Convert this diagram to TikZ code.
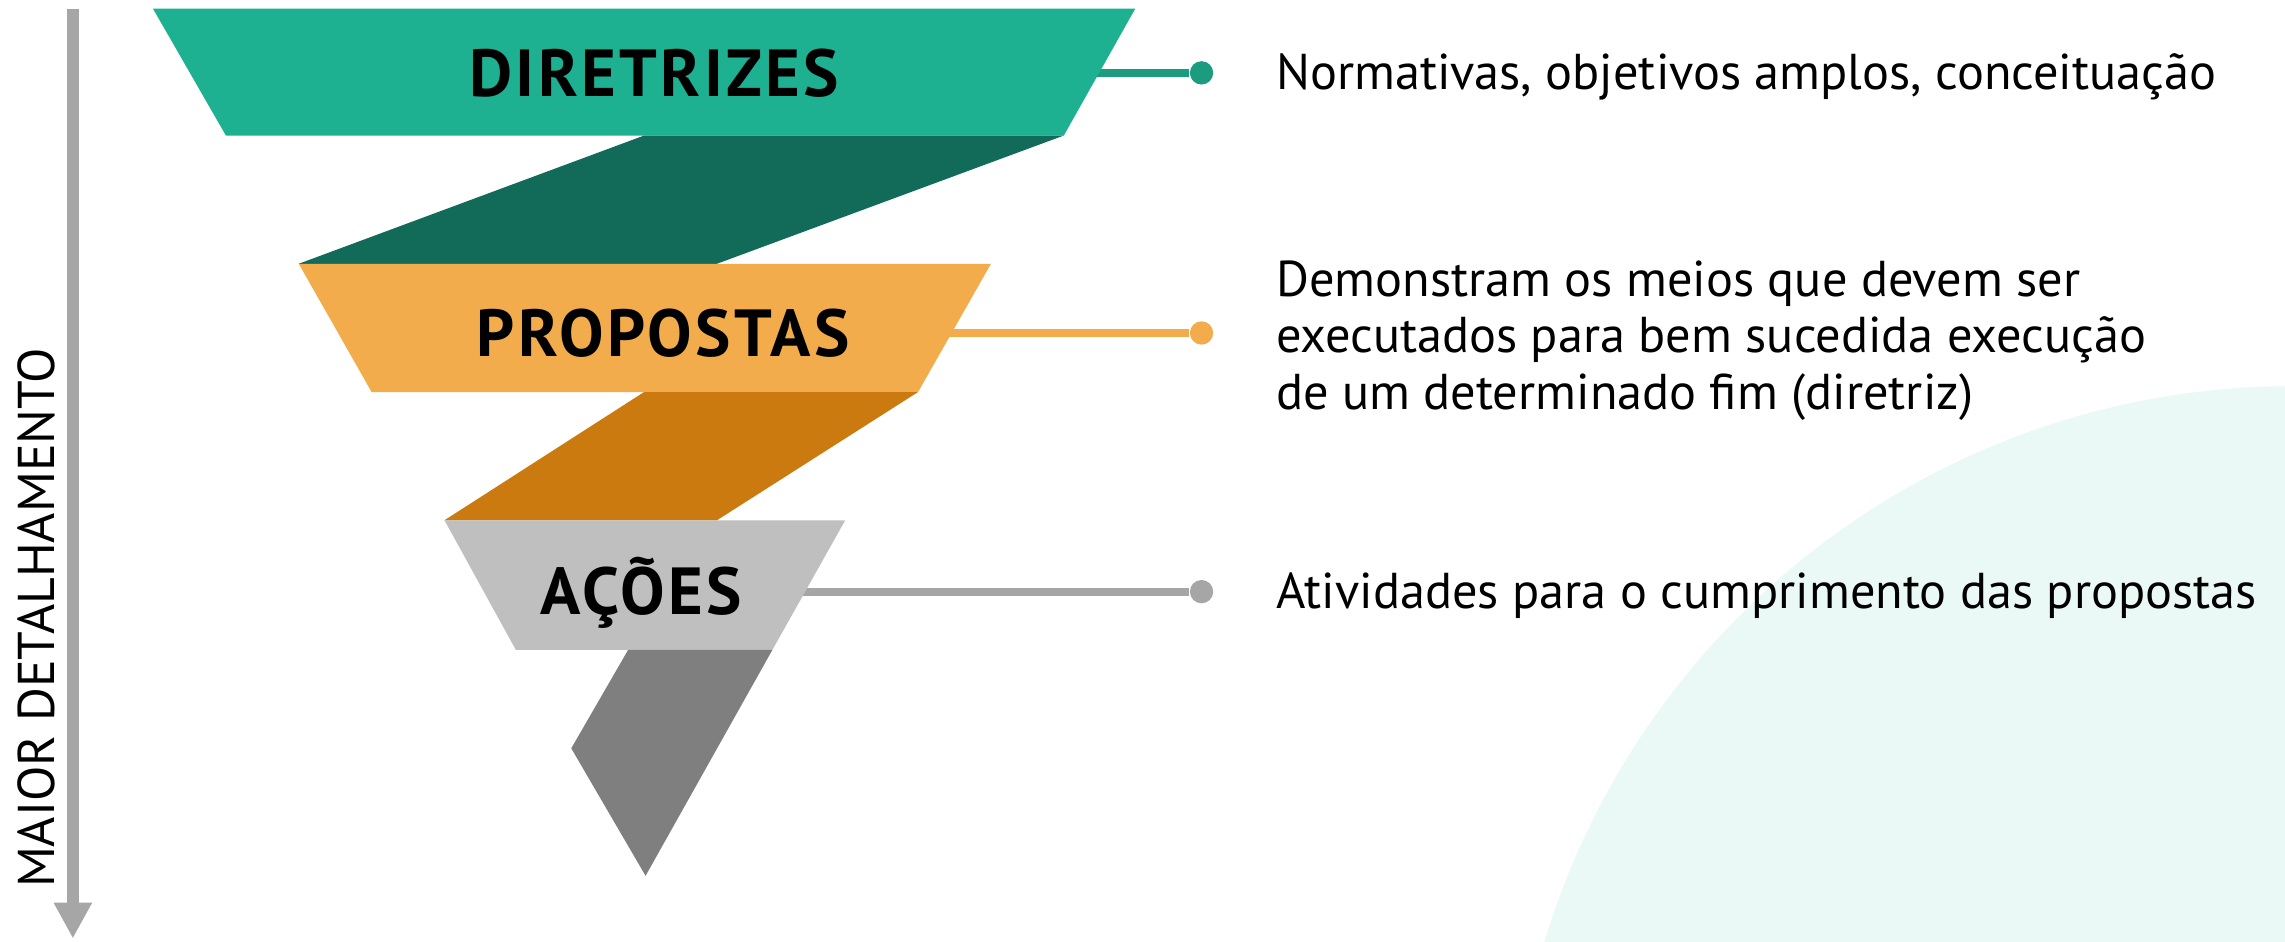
\documentclass[tikz,border=0pt]{standalone}
\usepackage{fontspec}
\setmainfont{PT Sans}
\usetikzlibrary{arrows.meta}

\pgfdeclarelayer{bg}
\pgfsetlayers{bg,main}

\definecolor{verde}{HTML}{1DB192}
\definecolor{verdeescuro}{HTML}{126B59}
\definecolor{verdelinha}{HTML}{1B9B7F}
\definecolor{laranja}{HTML}{F2AC4B}
\definecolor{laranjaescuro}{HTML}{CB7A10}
\definecolor{cinzaclaro}{HTML}{BFBFBF}
\definecolor{cinzaescuro}{HTML}{7F7F7F}
\definecolor{cinzalinha}{HTML}{A6A6A6}
\definecolor{fundo}{HTML}{EAF9F5}

\tikzset{
  rotulo/.style={font=\fontsize{13}{15}\selectfont\bfseries\addfontfeature{LetterSpace=5},
    inner sep=0pt, text height=9.1pt, text depth=0pt},
  texto/.style={font=\fontsize{9.83}{11.1}\selectfont, inner sep=0pt, anchor=base west},
  ponto/.style={circle, inner sep=0pt, minimum size=0.16cm},
  ligacao/.style={line width=1.56pt}
}

\begin{document}
\begin{tikzpicture}[>={Triangle[width=7pt,length=7pt]}]
    \useasboundingbox (0,0) rectangle (15.68,6.46);

    % Eixo vertical
    \coordinate (eixotopo) at (0.50,6.40);
    \coordinate (eixobase) at (0.50,0.02);
    \draw[->, cinzalinha, line width=2.3pt] (eixotopo) -- (eixobase);
    \node[rotate=90, font=\fontsize{10.1}{12}\selectfont, inner sep=0pt,
      text height=7.07pt, text depth=0pt] (eixo) at (0.25,2.22) {MAIOR DETALHAMENTO};

    % Rótulos das faixas
    \node[rotulo] (dir) at (4.49,5.96) {DIRETRIZES};
    \node[rotulo] (prop) at (4.55,4.175) {PROPOSTAS};
    \node[rotulo] (acoes) at (4.40,2.40) {AÇÕES};

    % Pontos
    \coordinate (col) at (8.245,0);
    \node[ponto, fill=verdelinha] (p1) at (dir -| col) {};
    \node[ponto, fill=laranja] (p2) at (prop -| col) {};
    \node[ponto, fill=cinzalinha] (p3) at (acoes -| col) {};

    % Descrições
    \node[texto] (t1) at (8.75,5.847) {Normativas, objetivos amplos, conceituação};
    \node[texto, align=left, anchor=north west] (t2) at (8.75,4.68)
      {Demonstram os meios que devem ser\\executados para bem sucedida execução\\de um determinado fim (diretriz)};
    \node[texto] (t3) at (8.75,2.286) {Atividades para o cumprimento das propostas};

    \begin{pgfonlayer}{bg}
      % Fundo
      \begin{scope}
        \clip (0,0) rectangle (15.68,6.46);
        \fill[fundo] (15.734,-1.554) circle (5.364);
      \end{scope}

      % Ligações
      \draw[ligacao, verdelinha] (dir) -- (p1);
      \draw[ligacao, laranja] (prop) -- (p2);
      \draw[ligacao, cinzalinha] (acoes) -- (p3);

      % Faixas
      \fill[verde] (1.05,6.40) -- (7.79,6.40) -- (7.30,5.53) -- (1.55,5.53) -- cycle;
      \fill[verdeescuro] (4.42,5.53) -- (7.30,5.53) -- (4.92,4.65) -- (2.05,4.65) -- cycle;
      \fill[laranja] (2.05,4.65) -- (6.80,4.65) -- (6.30,3.77) -- (2.55,3.77) -- cycle;
      \fill[laranjaescuro] (4.42,3.77) -- (6.30,3.77) -- (4.92,2.89) -- (3.05,2.89) -- cycle;
      \fill[cinzaclaro] (3.05,2.89) -- (5.80,2.89) -- (5.30,2.00) -- (3.54,2.00) -- cycle;
      \fill[cinzaescuro] (4.31,2.00) -- (5.30,2.00) -- (4.43,0.45) -- (3.92,1.325) -- cycle;
    \end{pgfonlayer}
\end{tikzpicture}
\end{document}
